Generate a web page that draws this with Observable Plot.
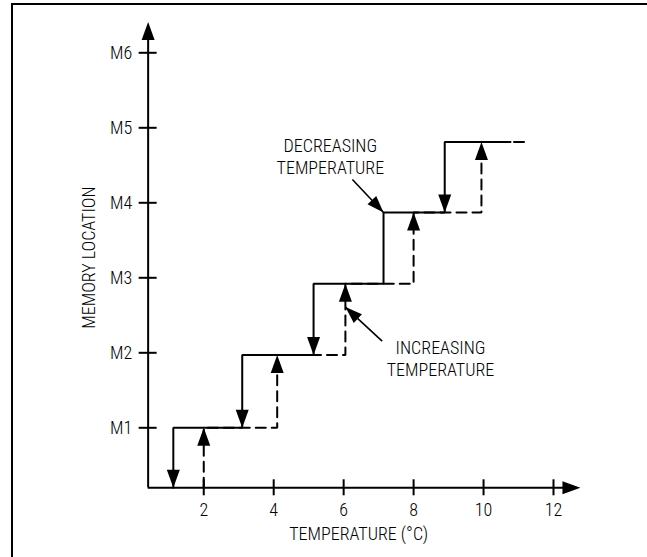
<!DOCTYPE html>
<html><head><meta charset="utf-8">
<script src="https://cdn.jsdelivr.net/npm/d3@7"></script>
<script src="https://cdn.jsdelivr.net/npm/@observablehq/plot@0.6"></script>
<style>
body{margin:0;background:#fff}
#wrap{position:relative;width:647px;height:557px;overflow:hidden;background:#fff}
#border{position:absolute;left:10.5px;top:2.5px;width:700px;height:600px;border-top:2px solid #000;border-left:2px solid #000;box-sizing:border-box}
#wrap svg{position:absolute;left:0;top:0;background:transparent}
#wrap svg text{font-weight:300}
</style></head>
<body><div id="wrap"><div id="border"></div></div>
<script>
// ---- data ----
const tempTicks = [2, 4, 6, 8, 10, 12];
const memoryLocations = [1, 2, 3, 4, 5, 6];
const memoryLabels = ["M1", "M2", "M3", "M4", "M5", "M6"];
const stepLevels = [1.0, 1.97, 2.92, 3.87, 4.81];            // plateau heights
const decreasingSwitchTemps = [1.13, 3.1, 5.14, 7.14, 8.89];  // solid line jumps
const decreasingEndTemp = 10.77;
const decreasingHasArrow = [true, true, true, false, true];
const increasingSwitchTemps = [2.0, 4.1, 6.05, 8.0, 9.94];    // dashed line jumps
const increasingEndTemp = 11.3;
const axisTempMin = 0.41, axisTempMax = 12.77;
const axisLocMin = 0.2, axisLocMax = 6.41;
const annotationTexts = ["DECREASING\nTEMPERATURE", "INCREASING\nTEMPERATURE"];
const annotationTextTemp = [5.62, 8.77];
const annotationTextLoc = [4.63, 1.93];
const pointerFromTemp = [6.25, 7.10];
const pointerFromLoc = [4.31, 2.155];
const pointerToTemp = [7.14, 6.05];
const pointerToLoc = [3.87, 2.61];

// ---- scales ----
const xOpt = {domain: [0, 12], range: [133.3, 553], axis: null};
const yOpt = {domain: [0, 6], range: [502.3, 52.3], axis: null};
const sx = Plot.scale({x: {domain: xOpt.domain, range: xOpt.range}});
const sy = Plot.scale({y: {domain: yOpt.domain, range: yOpt.range}});
const angleOf = (t0, m0, t1, m1) => {
  const dx = sx.apply(t1) - sx.apply(t0), dy = sy.apply(m1) - sy.apply(m0);
  return Math.atan2(dx, -dy) * 180 / Math.PI;
};

function stepPath(sw, end, base) {
  const pts = [{t: sw[0], m: base}];
  sw.forEach((t, i) => {
    pts.push({t, m: stepLevels[i]});
    pts.push({t: i + 1 < sw.length ? sw[i + 1] : end, m: stepLevels[i]});
  });
  return pts;
}
const decPath = stepPath(decreasingSwitchTemps, decreasingEndTemp, axisLocMin);
const incPath = stepPath(increasingSwitchTemps, increasingEndTemp, axisLocMin);

const decHeads = decreasingSwitchTemps.map((t, i) => ({t, m: i === 0 ? axisLocMin : stepLevels[i - 1], rot: 180}))
  .filter((d, i) => decreasingHasArrow[i]);
const incHeads = increasingSwitchTemps.map((t, i) => ({t, m: stepLevels[i], rot: 0}));
const axisHeads = [
  {t: axisTempMin, m: axisLocMax, rot: 0},
  {t: axisTempMax, m: axisLocMin, rot: 90}
];
const pointers = annotationTexts.map((s, i) => ({
  t0: pointerFromTemp[i], m0: pointerFromLoc[i], t: pointerToTemp[i], m: pointerToLoc[i],
  rot: angleOf(pointerFromTemp[i], pointerFromLoc[i], pointerToTemp[i], pointerToLoc[i])
}));
const annotations = annotationTexts.map((s, i) => ({s, t: annotationTextTemp[i], m: annotationTextLoc[i]}));

const arrowHead = {draw(ctx) { ctx.moveTo(0, 0); ctx.lineTo(-6.5, 18); ctx.lineTo(6.5, 18); ctx.closePath(); }};
const smallHead = {draw(ctx) { ctx.moveTo(0, 0); ctx.lineTo(-6, 17); ctx.lineTo(6, 17); ctx.closePath(); }};
const FONT = "'Roboto Condensed', 'Liberation Sans Narrow', 'Arial Narrow', 'DejaVu Sans Condensed', sans-serif";

const chart = Plot.plot({
  width: 647, height: 557,
  marginTop: 0, marginRight: 0, marginBottom: 0, marginLeft: 0,
  x: xOpt, y: yOpt,
  style: {fontFamily: FONT, fontSize: "18px", background: "transparent", color: "#000"},
  marks: [
    // axes
    Plot.ruleX([0], {x: axisTempMin, y1: axisLocMax, y2: axisLocMin, insetTop: 10, stroke: "#000", strokeWidth: 2}),
    Plot.ruleY([0], {y: axisLocMin, x1: axisTempMin, x2: axisTempMax, insetRight: 10, stroke: "#000", strokeWidth: 2}),
    Plot.ruleX(tempTicks, {x: d => d, y1: axisLocMin, y2: axisLocMin, insetTop: -8, insetBottom: -8, stroke: "#000", strokeWidth: 2}),
    Plot.ruleY(memoryLocations, {y: d => d, x1: axisTempMin, x2: axisTempMin, insetLeft: -9, insetRight: -9, stroke: "#000", strokeWidth: 2}),
    Plot.dot(axisHeads, {x: "t", y: "m", rotate: "rot", symbol: arrowHead, fill: "#000", stroke: null}),
    Plot.text(tempTicks, {x: d => d, y: axisLocMin, dy: 22, text: d => String(d), fill: "#000"}),
    Plot.text(memoryLocations, {x: axisTempMin, y: d => d, dx: -16, textAnchor: "end", text: (d, i) => memoryLabels[i], fill: "#000"}),
    Plot.text(["TEMPERATURE (°C)"], {x: 6.43, y: axisLocMin, dy: 46, text: d => d, fill: "#000"}),
    Plot.text(["MEMORY LOCATION"], {x: axisTempMin, y: 3.27, dx: -59, rotate: -90, text: d => d, fill: "#000"}),
    // step lines
    Plot.line(incPath, {x: "t", y: "m", stroke: "#000", strokeWidth: 2, strokeDasharray: "10,6", strokeLinejoin: "miter"}),
    Plot.line(decPath, {x: "t", y: "m", stroke: "#000", strokeWidth: 2, strokeLinejoin: "miter"}),
    Plot.dot(incHeads, {x: "t", y: "m", rotate: "rot", symbol: arrowHead, fill: "#000", stroke: null}),
    Plot.dot(decHeads, {x: "t", y: "m", rotate: "rot", symbol: arrowHead, fill: "#000", stroke: null}),
    // annotations
    Plot.link(pointers, {x1: "t0", y1: "m0", x2: "t", y2: "m", stroke: "#000", strokeWidth: 1.6}),
    Plot.dot(pointers, {x: "t", y: "m", rotate: "rot", symbol: smallHead, fill: "#000", stroke: null}),
    Plot.text(annotations, {x: "t", y: "m", text: "s", lineHeight: 1.25, fill: "#000"})
  ]
});
document.getElementById("wrap").appendChild(chart);
</script>
</body></html>
